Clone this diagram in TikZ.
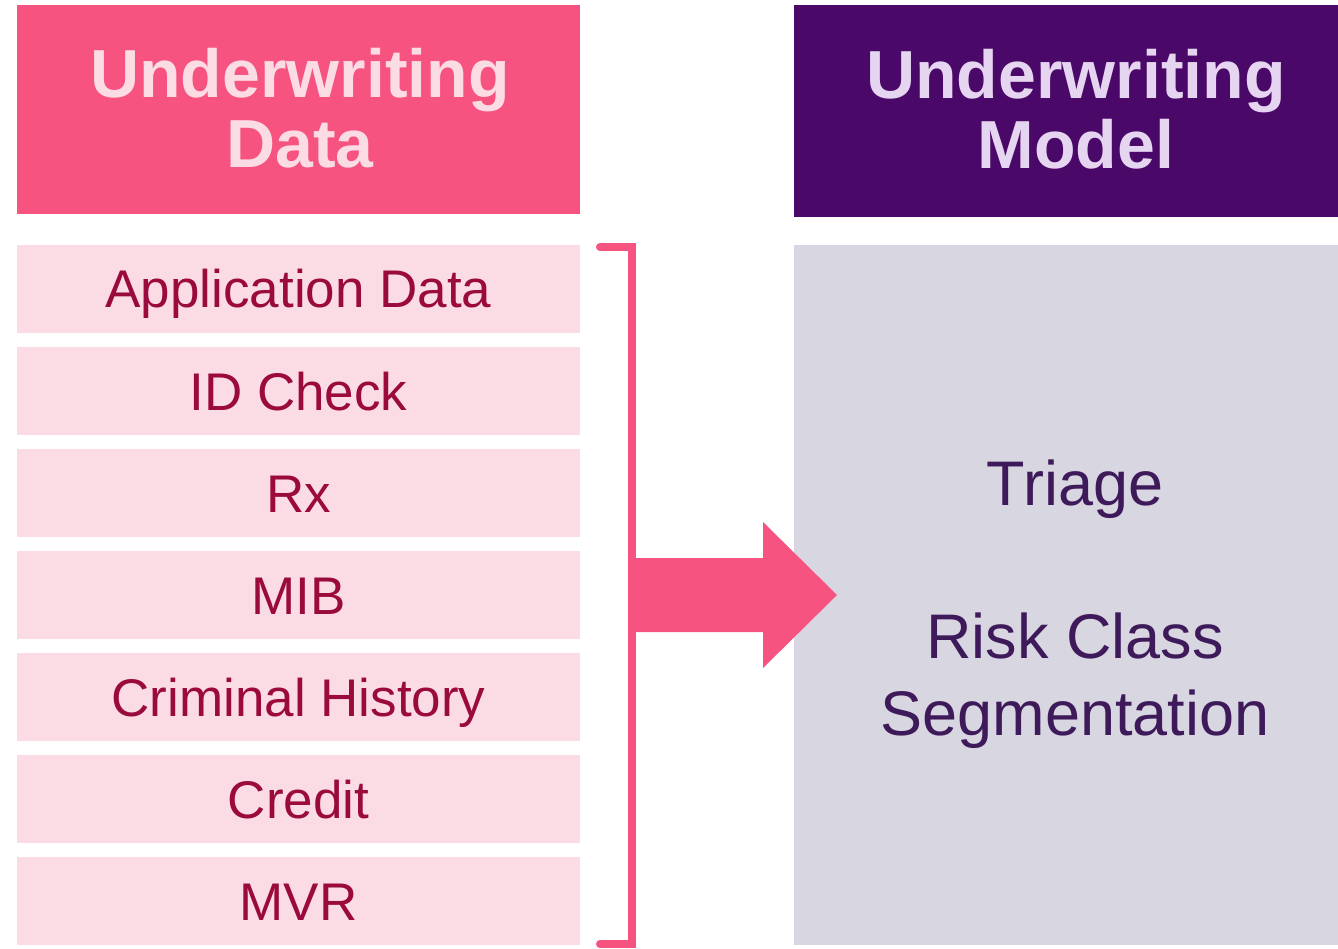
\documentclass[tikz,border=0pt]{standalone}
\usepackage{fontspec}
\setmainfont{Liberation Sans}
\definecolor{hotpink}{HTML}{F65380}
\definecolor{palepink}{HTML}{FCDCE4}
\definecolor{itemtext}{HTML}{9B0A3C}
\definecolor{deeppurple}{HTML}{4A0968}
\definecolor{lavtext}{HTML}{E6D5F0}
\definecolor{greybox}{HTML}{D8D6E1}
\definecolor{modeltext}{HTML}{3E1A5A}
\tikzset{
  headbox/.style={rectangle, inner sep=0pt, align=center, font=\fontsize{68}{70}\selectfont\bfseries},
  itembox/.style={rectangle, fill=palepink, text=itemtext, inner sep=0pt,
    minimum width=563pt, minimum height=88pt, text height=38pt, text depth=0pt,
    font=\fontsize{53}{60}\selectfont},
  bracketline/.style={draw=hotpink, line width=8pt, line cap=round, line join=miter},
}
\begin{document}
\begin{tikzpicture}[x=1pt,y=-1pt]
\useasboundingbox (0,0) rectangle (1338,948);
% headers
\node[headbox, fill=hotpink, minimum width=563pt, minimum height=209pt] (hdata) at (298.5,109.5) {};
\node[headbox, text=palepink, anchor=base] (hdatatxt) at (300,167) {Underwriting\\Data};
\node[headbox, fill=deeppurple, minimum width=544pt, minimum height=212pt] (hmodel) at (1066,111) {};
\node[headbox, text=lavtext, anchor=base] (hmodeltxt) at (1076,168) {Underwriting\\Model};
% items
\node[itembox] (i1) at (298.5,288.5) {Application Data};
\node[itembox] (i2) at (298.5,391) {ID Check};
\node[itembox] (i3) at (298.5,493) {Rx};
\node[itembox] (i4) at (298.5,595) {MIB};
\node[itembox] (i5) at (298.5,697) {Criminal History};
\node[itembox] (i6) at (298.5,799) {Credit};
\node[itembox] (i7) at (298.5,901) {MVR};
% model box
\node[rectangle, fill=greybox, inner sep=0pt, minimum width=544pt, minimum height=700pt] (model) at (1066,595) {};
\node[text=modeltext, align=center, anchor=base, inner sep=0pt,
  font=\fontsize{63}{76.5}\selectfont] (modeltxt) at (1075,735) {Triage\\[76.5pt]Risk Class\\Segmentation};
% bracket
\coordinate (bt) at (600,247);
\coordinate (bb) at (600,944);
\draw[bracketline] (bt) -- (632,247) -- (632,944) -- (bb);
% arrow
\coordinate (as) at (636,595);
\coordinate (atip) at (837,595);
\fill[hotpink] (636,558) -- (763,558) -- (763,522) -- (atip) -- (763,668) -- (763,632) -- (636,632) -- cycle;
\end{tikzpicture}
\end{document}
